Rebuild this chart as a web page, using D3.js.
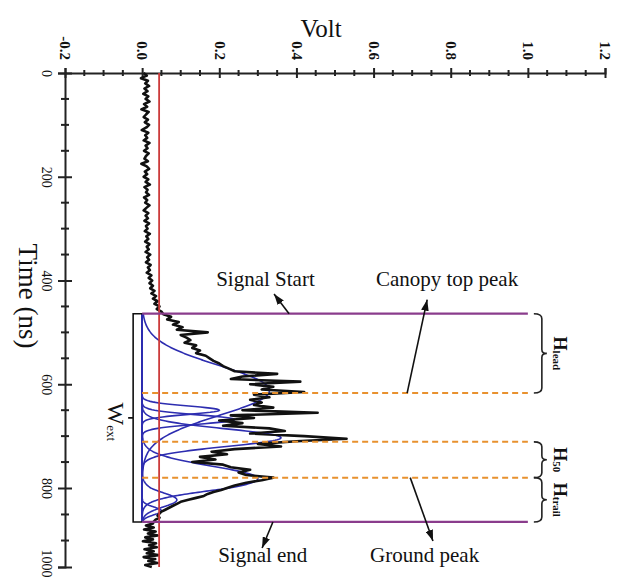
<!DOCTYPE html>
<html><head><meta charset="utf-8">
<script src="https://cdn.jsdelivr.net/npm/d3@7"></script>
<style>body{margin:0;background:#fff} svg{display:block}</style>
</head><body>
<svg id="c" width="624" height="579"></svg>
<script>
// ---------- data ----------
const voltTicks = [-0.2, 0, 0.2, 0.4, 0.6, 0.8, 1.0, 1.2];
const voltTickLabels = ["-0.2", "0.0", "0.2", "0.4", "0.6", "0.8", "1.0", "1.2"];
const voltMinorTicks = [-0.15,-0.1,-0.05,0.05,0.1,0.15,0.25,0.3,0.35,0.45,0.5,0.55,0.65,0.7,0.75,0.85,0.9,0.95,1.05,1.1,1.15];
const timeTicks = [0, 200, 400, 600, 800, 1000];
const timeTickLabels = ["0", "200", "400", "600", "800", "1000"];
const timeMinorTicks = [50,100,150,250,300,350,450,500,550,650,700,750,867,933];

// waveform sampled every 5 ns from 0 to 1000 ns
const waveTime = d3.range(0, 1001, 5);
const waveVolt = [
  // 0 - 460 ns : background noise
  .004,.012,-.003,.015,.008,.018,.006,.014,.003,.016,
  .009,.019,.005,.013,-.002,.017,.010,.004,.015,.007,
  .018,.011,-.001,.016,.008,.013,.004,.019,.009,.014,
  .005,.017,.010,.006,.015,-.002,.012,.018,.007,.013,
  .004,.016,.009,.020,.006,.014,.010,.018,.005,.013,
  .008,.019,.011,.004,.016,.009,.015,.006,.018,.010,
  .014,.007,.020,.011,.016,.008,.019,.012,.017,.009,
  .021,.013,.018,.010,.022,.015,.020,.012,.024,.017,
  .026,.019,.028,.021,.032,.024,.036,.028,.040,.032,
  .045,.038,.050,
  // 465 - 890 ns : return signal
  .055,.075,.065,.095,.080,.105,.090,.170,.100,.115,
  .125,.110,.140,.130,.150,.140,.165,.175,.185,.200,
  .210,.225,.240,.350,.260,.230,.410,.280,.340,.310,
  .420,.290,.330,.280,.310,.290,.340,.260,.455,.230,
  .290,.200,.260,.210,.330,.370,.280,.420,.530,.400,
  .300,.360,.240,.180,.220,.150,.190,.130,.210,.230,
  .280,.250,.270,.340,.310,.270,.240,.220,.205,.185,
  .170,.160,.140,.120,.100,.090,.080,.070,.060,.050,
  .045,.040,.045,.035,.030,.028,
  // 895 - 1000 ns : background noise
  .010,.030,.005,.035,.015,.040,.008,.028,.002,.036,
  .018,.038,.006,.030,.012,.042,.004,.034,.016,.040,
  .008,.025
];

// Gaussian decomposition components
const gaussCenter = [612, 650, 668, 703, 782, 830, 858];
const gaussAmp    = [0.33, 0.20, 0.24, 0.36, 0.30, 0.09, 0.05];
const gaussSigma  = [48, 8, 9, 17, 24, 18, 10];

const noiseThreshold = 0.044;
const signalStart = 464, signalEnd = 886;
const canopyPeak = 617, midPeak = 711, groundPeak = 780;

// ---------- scales ----------
const svg = d3.select("#c");
const x = d3.scaleLinear().domain([-0.2, 1.2]).range([65, 605]);
const y = d3.scaleLinear().domain([0, 800, 1000]).range([73, 488, 567]);
const serif = "'Liberation Serif','Times New Roman',serif";

svg.append("defs").append("marker")
  .attr("id", "ah").attr("viewBox", "0 0 10 7").attr("refX", 10).attr("refY", 3.5)
  .attr("markerWidth", 11).attr("markerHeight", 8).attr("markerUnits", "userSpaceOnUse")
  .attr("orient", "auto")
  .append("path").attr("d", "M0,0 L10,3.5 L0,7 Z").attr("fill", "#111");

// ---------- axes ----------
const topAxis = svg.append("g").attr("transform", `translate(0,${y(0)})`)
  .call(d3.axisTop(x).tickValues(voltTicks).tickFormat((d, i) => voltTickLabels[i]).tickSizeOuter(0).tickSize(5));
topAxis.select(".domain").attr("stroke", "#222").attr("stroke-width", 2);
topAxis.selectAll(".tick line").attr("y1", 5).attr("y2", -5).attr("stroke", "#222").attr("stroke-width", 2);
topAxis.selectAll(".tick text")
  .attr("x", null).attr("y", null).attr("dy", "0.35em")
  .attr("transform", "translate(0,-13) rotate(90)")
  .attr("text-anchor", "end")
  .attr("font-family", serif).attr("font-size", 15).attr("font-weight", "bold").attr("fill", "#111");
topAxis.selectAll(".vminor").data(voltMinorTicks).join("line")
  .attr("x1", d => x(d)).attr("x2", d => x(d)).attr("y1", -3).attr("y2", 3)
  .attr("stroke", "#222").attr("stroke-width", 2);

const leftAxis = svg.append("g").attr("transform", `translate(${x(-0.2)},0)`)
  .call(d3.axisLeft(y).tickValues(timeTicks).tickFormat((d, i) => timeTickLabels[i]).tickSizeOuter(0).tickSize(7));
leftAxis.select(".domain").attr("stroke", "#222").attr("stroke-width", 2);
leftAxis.selectAll(".tick line").attr("x1", -7).attr("x2", 7).attr("stroke", "#222").attr("stroke-width", 2);
leftAxis.selectAll(".tick text")
  .attr("x", null).attr("y", null).attr("dy", "0.35em")
  .attr("transform", (d, i) => `translate(-18,${i === timeTicks.length - 1 ? -4 : 0}) rotate(90)`)
  .attr("text-anchor", "middle")
  .attr("font-family", serif).attr("font-size", 14).attr("fill", "#111");
leftAxis.selectAll(".tminor").data(timeMinorTicks).join("line")
  .attr("y1", d => y(d)).attr("y2", d => y(d)).attr("x1", -4).attr("x2", 4)
  .attr("stroke", "#222").attr("stroke-width", 2);

svg.append("text").attr("x", 321).attr("y", 37).attr("text-anchor", "middle")
  .attr("font-family", serif).attr("font-size", 25).attr("fill", "#111").text("Volt");
svg.append("text").attr("transform", "translate(19,296) rotate(90)").attr("text-anchor", "middle")
  .attr("font-family", serif).attr("font-size", 27).attr("fill", "#111").text("Time (ns)");

// ---------- gaussians ----------
const gT = d3.range(signalStart, signalEnd + 1, 1);
const gLine = d3.line().x(d => x(d[1])).y(d => y(d[0]));
gaussCenter.forEach((c, i) => {
  const pts = gT.map(t => [t, gaussAmp[i] * Math.exp(-((t - c) ** 2) / (2 * gaussSigma[i] ** 2))]);
  svg.append("path").attr("d", gLine(pts)).attr("fill", "none")
    .attr("stroke", "#2d2db0").attr("stroke-width", 1.6);
});

// ---------- waveform ----------
const wLine = d3.line().x((d, i) => x(waveVolt[i])).y(d => y(d));
svg.append("path").attr("d", wLine(waveTime)).attr("fill", "none")
  .attr("stroke", "#111").attr("stroke-width", 2.6).attr("stroke-linejoin", "round");

// ---------- reference lines ----------
svg.append("line").attr("x1", x(noiseThreshold)).attr("x2", x(noiseThreshold))
  .attr("y1", y(0)).attr("y2", y(1000)).attr("stroke", "#cc3b3b").attr("stroke-width", 1.8);

[signalStart, signalEnd].forEach(t => {
  svg.append("line").attr("x1", x(0)).attr("x2", x(1.0)).attr("y1", y(t)).attr("y2", y(t))
    .attr("stroke", "#8a3c8c").attr("stroke-width", 2.2);
});
[canopyPeak, midPeak, groundPeak].forEach(t => {
  svg.append("line").attr("x1", x(0)).attr("x2", x(1.0)).attr("y1", y(t)).attr("y2", y(t))
    .attr("stroke", "#e8912e").attr("stroke-width", 2).attr("stroke-dasharray", "6,4");
});

// ---------- annotations ----------
function arrow(v0, t0, v1, t1) {
  svg.append("line").attr("x1", x(v0)).attr("y1", y(t0)).attr("x2", x(v1)).attr("y2", y(t1))
    .attr("stroke", "#111").attr("stroke-width", 1.6).attr("marker-end", "url(#ah)");
}
arrow(0.381, signalStart, 0.342, 426);
arrow(0.687, canopyPeak, 0.739, 437);
arrow(0.695, groundPeak, 0.754, 934);
arrow(0.339, signalEnd, 0.311, 952);

function label(txt, v, t, anchor) {
  svg.append("text").attr("x", x(v)).attr("y", y(t)).attr("text-anchor", anchor || "start")
    .attr("font-family", serif).attr("font-size", 21).attr("fill", "#111").text(txt);
}
label("Signal Start", 0.192, 411);
label("Canopy top peak", 0.975, 411, "end");
label("Signal end", 0.197, 987);
label("Ground peak", 0.591, 987);

function brace(t0, t1, main, sub) {
  const x0 = x(1.0) + 6, y0 = y(t0), y1 = y(t1), ym = (y0 + y1) / 2, xb = x0 + 8;
  const d = `M${x0},${y0} Q${xb},${y0} ${xb},${y0 + 5} L${xb},${ym - 4} Q${xb},${ym} ${xb + 5},${ym} ` +
            `Q${xb},${ym} ${xb},${ym + 4} L${xb},${y1 - 5} Q${xb},${y1} ${x0},${y1}`;
  svg.append("path").attr("d", d).attr("fill", "none").attr("stroke", "#222").attr("stroke-width", 1.6);
  const tx = svg.append("text").attr("transform", `translate(${x0 + 20},${ym}) rotate(90)`)
    .attr("text-anchor", "middle").attr("font-family", serif).attr("font-weight", "bold").attr("fill", "#111");
  tx.append("tspan").attr("font-size", 18).text(main);
  tx.append("tspan").attr("font-size", 11).attr("dy", 1).text(sub);
}
brace(signalStart, canopyPeak, "H", "lead");
brace(midPeak, groundPeak, "H", "50");
brace(groundPeak, signalEnd, "H", "trail");

(function () {
  const xa = x(0), xl = xa - 9, y0 = y(signalStart), y1 = y(signalEnd), ym = (y0 + y1) / 2;
  svg.append("path").attr("d", `M${xa},${y0} L${xl},${y0} L${xl},${y1} L${xa},${y1} M${xl},${ym} L${xl - 5},${ym}`)
    .attr("fill", "none").attr("stroke", "#111").attr("stroke-width", 1.6);
  const tx = svg.append("text").attr("transform", `translate(${xl - 25},${ym + 4}) rotate(90)`)
    .attr("text-anchor", "middle").attr("font-family", serif).attr("fill", "#111");
  tx.append("tspan").attr("font-size", 24).text("W");
  tx.append("tspan").attr("font-size", 13).attr("dy", 1).text("ext");
})();
</script>
</body></html>
